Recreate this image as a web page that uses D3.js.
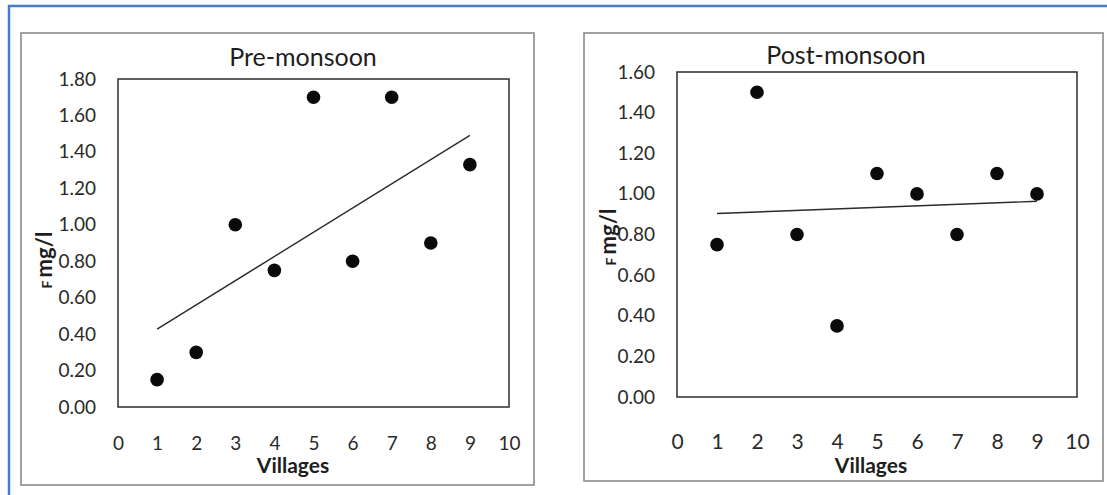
<!DOCTYPE html>
<html>
<head>
<meta charset="utf-8">
<script src="https://cdn.jsdelivr.net/npm/d3@7"></script>
<style>
  body { margin: 0; background: #fff; }
  text { font-family: Lato, "Open Sans", sans-serif; fill: #1e1e1e; }
</style>
</head>
<body>
<script>
// data
const villages = [1, 2, 3, 4, 5, 6, 7, 8, 9];
const preMonsoon = [0.15, 0.30, 1.00, 0.75, 1.70, 0.80, 1.70, 0.90, 1.33];
const postMonsoon = [0.75, 1.50, 0.80, 0.35, 1.10, 1.00, 0.80, 1.10, 1.00];
const xTicks = [0, 1, 2, 3, 4, 5, 6, 7, 8, 9, 10];
const preTicksY = [0, 0.2, 0.4, 0.6, 0.8, 1.0, 1.2, 1.4, 1.6, 1.8];
const postTicksY = [0, 0.2, 0.4, 0.6, 0.8, 1.0, 1.2, 1.4, 1.6];

const W = 1107, H = 495;

const svg = d3.select("body").append("svg")
  .attr("width", W)
  .attr("height", H);

// outer blue frame (only top and left edges show in the picture)
svg.append("rect")
  .attr("x", 9).attr("y", 6)
  .attr("width", W + 20).attr("height", H + 20)
  .attr("fill", "none")
  .attr("stroke", "#4a7cc2")
  .attr("stroke-width", 2.5);

// panel layout
const panels = [
  {
    title: "Pre-monsoon", values: preMonsoon, yTicks: preTicksY,
    box: { x: 21, y: 33, w: 513, h: 452 },
    plot: { x0: 118, x1: 509, y0: 79, y1: 407 },
    titleX: 303, titleY: 66, xLabelY: 451, xLabelSize: 19,
    villX: 293, villY: 473, fX: 44, fY: 260
  },
  {
    title: "Post-monsoon", values: postMonsoon, yTicks: postTicksY,
    box: { x: 584, y: 33, w: 519, h: 448 },
    plot: { x0: 677, x1: 1077, y0: 72, y1: 397 },
    titleX: 846, titleY: 64, xLabelY: 449, xLabelSize: 21,
    villX: 871, villY: 473, fX: 608, fY: 237
  }
];

panels.forEach(p => {
  const g = svg.append("g");

  g.append("rect")
    .attr("x", p.box.x).attr("y", p.box.y)
    .attr("width", p.box.w).attr("height", p.box.h)
    .attr("fill", "none")
    .attr("stroke", "#8a8a8a")
    .attr("stroke-width", 1.6);

  const x = d3.scaleLinear().domain([0, 10]).range([p.plot.x0, p.plot.x1]);
  const y = d3.scaleLinear().domain([0, d3.max(p.yTicks)]).range([p.plot.y1, p.plot.y0]);

  // plot area border
  g.append("rect")
    .attr("x", p.plot.x0).attr("y", p.plot.y0)
    .attr("width", p.plot.x1 - p.plot.x0)
    .attr("height", p.plot.y1 - p.plot.y0)
    .attr("fill", "none")
    .attr("stroke", "#3a3a3a")
    .attr("stroke-width", 1.6);

  // y axis labels
  const yAxis = d3.axisLeft(y)
    .tickValues(p.yTicks)
    .tickFormat(d3.format(".2f"))
    .tickSize(0)
    .tickPadding(22);
  const ya = g.append("g")
    .attr("transform", `translate(${p.plot.x0},0)`)
    .call(yAxis);
  ya.select(".domain").remove();
  ya.selectAll("text")
    .style("font-size", "19px")
    .style("fill", "#2a2a2a");

  // x axis labels
  const xAxis = d3.axisBottom(x)
    .tickValues(xTicks)
    .tickFormat(d3.format("d"))
    .tickSize(0)
    .tickPadding(0);
  const xa = g.append("g")
    .attr("transform", `translate(0,${p.xLabelY - 15})`)
    .call(xAxis);
  xa.select(".domain").remove();
  xa.selectAll("text")
    .style("font-size", p.xLabelSize + "px")
    .style("fill", "#2a2a2a");

  // title
  g.append("text")
    .attr("x", p.titleX).attr("y", p.titleY)
    .attr("text-anchor", "middle")
    .style("font-size", "25px")
    .text(p.title);

  // axis titles
  g.append("text")
    .attr("x", p.villX).attr("y", p.villY)
    .attr("text-anchor", "middle")
    .style("font-size", "21px")
    .style("font-weight", "bold")
    .text("Villages");

  const fLabel = g.append("text")
    .attr("transform", `translate(${p.fX},${p.fY}) rotate(-90)`)
    .attr("text-anchor", "middle")
    .attr("dy", "0.35em")
    .style("font-size", "22px")
    .style("font-weight", "bold");
  fLabel.append("tspan").style("font-size", "14px").text("F ");
  fLabel.append("tspan").text("mg/l");

  // linear trend from the points
  const n = villages.length;
  const mx = d3.mean(villages);
  const my = d3.mean(p.values);
  const slope = d3.sum(villages, (v, i) => (v - mx) * (p.values[i] - my)) /
    d3.sum(villages, v => (v - mx) * (v - mx));
  const icpt = my - slope * mx;
  const trend = [villages[0], villages[n - 1]].map(v => [v, icpt + slope * v]);

  g.append("path")
    .datum(trend)
    .attr("fill", "none")
    .attr("stroke", "#2a2a2a")
    .attr("stroke-width", 1.4)
    .attr("d", d3.line().x(d => x(d[0])).y(d => y(d[1])));

  g.selectAll("circle")
    .data(villages)
    .enter()
    .append("circle")
    .attr("cx", d => x(d))
    .attr("cy", (d, i) => y(p.values[i]))
    .attr("r", 6.8)
    .attr("fill", "#0a0a0a");
});
</script>
</body>
</html>
